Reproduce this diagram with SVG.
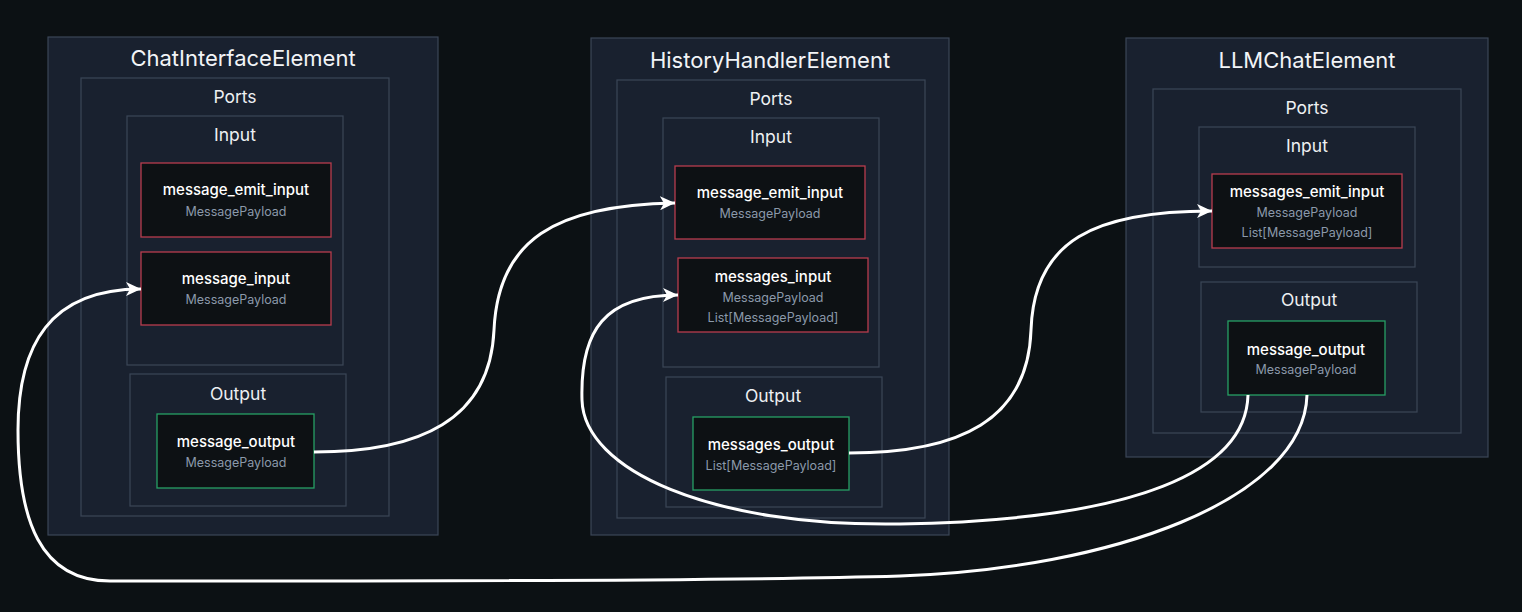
<svg xmlns="http://www.w3.org/2000/svg" width="1522" height="612" viewBox="0 0 1522 612">
<defs>
<style>
.bg{fill:#0c1114}
.el{fill:#19212f;stroke:#3b4658;stroke-width:1.2}
.grp{fill:#19212f;stroke:#3b4658;stroke-width:1.2}
.pin{fill:#0d1114;stroke:#b83d4e;stroke-width:1.3}
.pout{fill:#0d1114;stroke:#27a065;stroke-width:1.3}
text{font-family:Inter,"Noto Sans","Liberation Sans",sans-serif;text-anchor:middle}
.t1{font-size:22px;fill:#f2f4f7}
.t2{font-size:17.5px;fill:#eef0f3}
.t3{font-size:15px;fill:#ffffff;font-weight:500}
.t4{font-size:12.5px;fill:#8b99aa}
.conn{fill:none;stroke:#ffffff;stroke-width:3}
</style>
<marker id="arr" markerUnits="userSpaceOnUse" markerWidth="16" markerHeight="14" refX="15" refY="7" orient="auto">
<path d="M0,0 L15,7 L0,14 L4,7 z" fill="#ffffff"/>
</marker>
</defs>
<rect class="bg" x="0" y="0" width="1522" height="612"/>

<g id="ChatInterfaceElement">
<rect class="el" x="48" y="37" width="390" height="498"/>
<text class="t1" x="243" y="66">ChatInterfaceElement</text>
<g id="cie-ports">
<rect class="grp" x="81" y="78" width="308" height="438"/>
<text class="t2" x="235" y="103">Ports</text>
</g>
<g id="cie-input">
<rect class="grp" x="127" y="116" width="216" height="249"/>
<text class="t2" x="235" y="141">Input</text>
</g>
<g id="cie-message_emit_input">
<rect class="pin" x="141" y="163" width="190" height="74"/>
<text class="t3" x="236" y="195">message_emit_input</text>
<text class="t4" x="236" y="216">MessagePayload</text>
</g>
<g id="cie-message_input">
<rect class="pin" x="141" y="252" width="190" height="73"/>
<text class="t3" x="236" y="284">message_input</text>
<text class="t4" x="236" y="304">MessagePayload</text>
</g>
<g id="cie-output">
<rect class="grp" x="130" y="374" width="216" height="132"/>
<text class="t2" x="238" y="400">Output</text>
</g>
<g id="cie-message_output">
<rect class="pout" x="157" y="414" width="157" height="74"/>
<text class="t3" x="236" y="447">message_output</text>
<text class="t4" x="236" y="467">MessagePayload</text>
</g>
</g>

<g id="HistoryHandlerElement">
<rect class="el" x="591" y="38" width="358" height="497"/>
<text class="t1" x="770" y="68">HistoryHandlerElement</text>
<g id="hhe-ports">
<rect class="grp" x="617" y="80" width="308" height="438"/>
<text class="t2" x="771" y="105">Ports</text>
</g>
<g id="hhe-input">
<rect class="grp" x="663" y="118" width="216" height="249"/>
<text class="t2" x="771" y="143">Input</text>
</g>
<g id="hhe-message_emit_input">
<rect class="pin" x="675" y="166" width="190" height="73"/>
<text class="t3" x="770" y="198">message_emit_input</text>
<text class="t4" x="770" y="218">MessagePayload</text>
</g>
<g id="hhe-messages_input">
<rect class="pin" x="678" y="258" width="190" height="74"/>
<text class="t3" x="773" y="282">messages_input</text>
<text class="t4" x="773" y="302">MessagePayload</text>
<text class="t4" x="773" y="322">List[MessagePayload]</text>
</g>
<g id="hhe-output">
<rect class="grp" x="666" y="377" width="216" height="130"/>
<text class="t2" x="773" y="402">Output</text>
</g>
<g id="hhe-messages_output">
<rect class="pout" x="693" y="417" width="156" height="73"/>
<text class="t3" x="771" y="450">messages_output</text>
<text class="t4" x="771" y="470">List[MessagePayload]</text>
</g>
</g>

<g id="LLMChatElement">
<rect class="el" x="1126" y="38" width="362" height="419"/>
<text class="t1" x="1307" y="68">LLMChatElement</text>
<g id="lce-ports">
<rect class="grp" x="1153" y="89" width="308" height="344"/>
<text class="t2" x="1307" y="114">Ports</text>
</g>
<g id="lce-input">
<rect class="grp" x="1199" y="127" width="216" height="140"/>
<text class="t2" x="1307" y="152">Input</text>
</g>
<g id="lce-messages_emit_input">
<rect class="pin" x="1212" y="174" width="190" height="74"/>
<text class="t3" x="1307" y="197">messages_emit_input</text>
<text class="t4" x="1307" y="217">MessagePayload</text>
<text class="t4" x="1307" y="237">List[MessagePayload]</text>
</g>
<g id="lce-output">
<rect class="grp" x="1201" y="282" width="216" height="130"/>
<text class="t2" x="1309" y="306">Output</text>
</g>
<g id="lce-message_output">
<rect class="pout" x="1228" y="321" width="157" height="74"/>
<text class="t3" x="1306" y="355">message_output</text>
<text class="t4" x="1306" y="374">MessagePayload</text>
</g>
</g>

<g id="connectors">
<path class="conn" marker-end="url(#arr)" d="M314,452 C420,452 490,420 494,330 C498,240 555,205 675,203"/>
<path class="conn" marker-end="url(#arr)" d="M849,453 C960,453 1028,420 1031,330 C1034,240 1095,211 1212,211"/>
<path class="conn" marker-end="url(#arr)" d="M1248,395 C1246,470 1140,520 900,524 C710,527 584,470 582,400 C580,330 605,295 678,295"/>
<path class="conn" marker-end="url(#arr)" d="M1307,395 C1304,500 1110,569 900,576 C700,582 300,581 110,581 C40,581 18,520 18,430 C18,345 50,289 141,289"/>
</g>
</svg>
